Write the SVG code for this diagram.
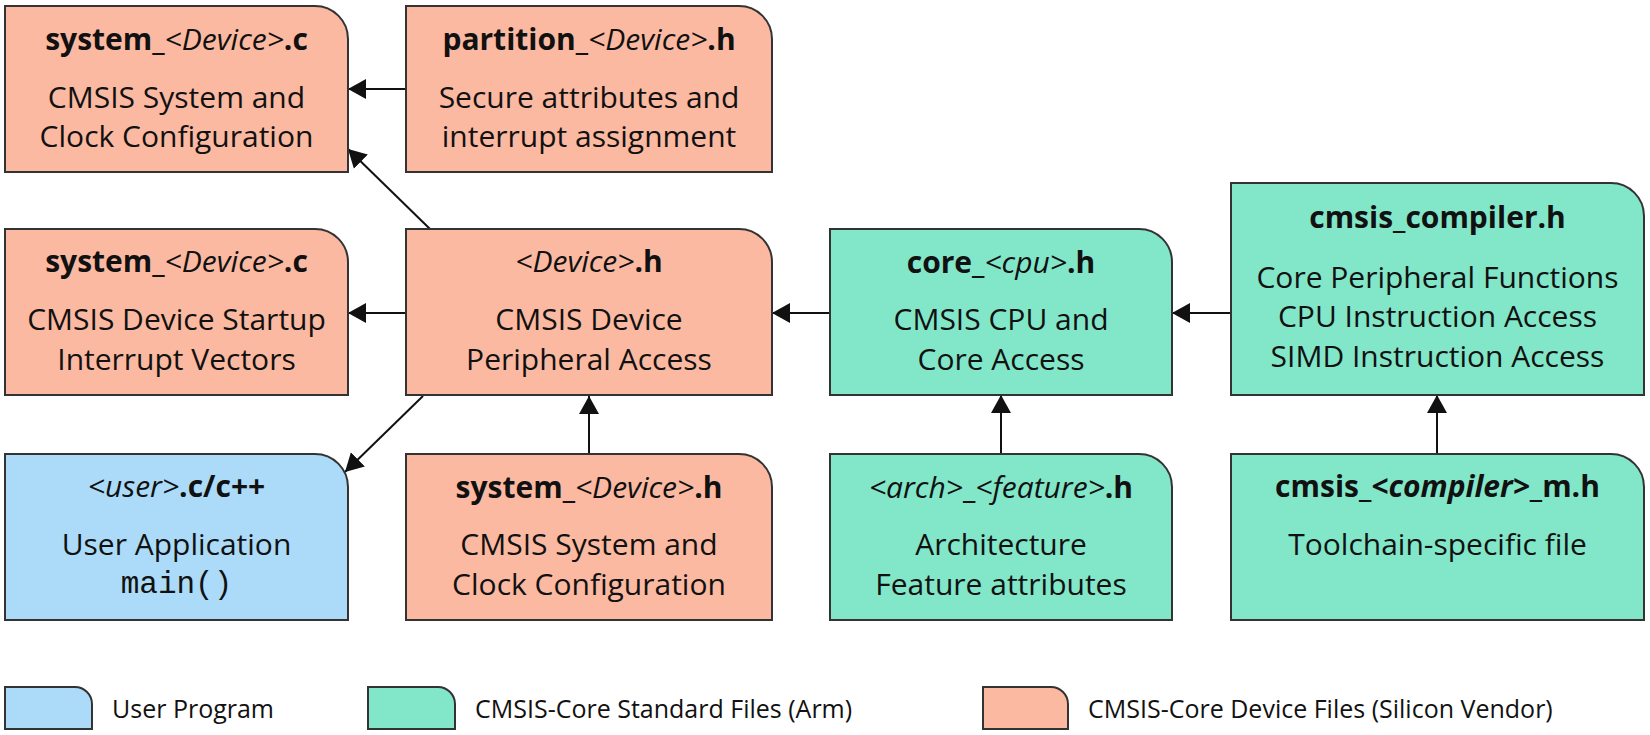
<svg xmlns="http://www.w3.org/2000/svg" width="1650" height="735" viewBox="0 0 1650 735">
<defs>
<style>
.box{stroke:#333;stroke-width:2}
.dev{fill:#FBB9A1}
.std{fill:#82E6C9}
.usr{fill:#ABDBF8}
text{font-family:"Open Sans","Noto Sans",sans-serif;fill:#111;text-anchor:middle}
.t{font-size:30px;font-weight:700}
.i{font-style:italic;font-weight:400}
.b{font-size:30px}
.m{font-family:"Liberation Mono","DejaVu Sans Mono",monospace;font-size:31px}
.lg{font-size:25px;text-anchor:start}
.c{stroke:#111;stroke-width:2;fill:none;marker-end:url(#ah)}
</style>
<marker id="ah" markerUnits="userSpaceOnUse" markerWidth="20" markerHeight="22" refX="18" refY="10" orient="auto" viewBox="0 0 20 20">
<path d="M0,0 L18,10 L0,20 Z" fill="#111"/>
</marker>
</defs>
<rect width="1650" height="735" fill="#fff"/>

<g id="connectors">
<line class="c" x1="406" y1="89" x2="348" y2="89"/>
<line class="c" x1="430" y1="229" x2="348" y2="149"/>
<line class="c" x1="406" y1="313" x2="348" y2="313"/>
<line class="c" x1="423" y1="396" x2="345" y2="472"/>
<line class="c" x1="589" y1="454" x2="589" y2="396"/>
<line class="c" x1="830" y1="313" x2="772" y2="313"/>
<line class="c" x1="1231" y1="313" x2="1172" y2="313"/>
<line class="c" x1="1001" y1="454" x2="1001" y2="395"/>
<line class="c" x1="1437" y1="454" x2="1437" y2="395"/>
</g>

<g id="n1">
<path class="box dev" d="M5,6 H315 A33,33 0 0 1 348,39 V172 H5 Z"/>
<text x="176.5" y="50" class="t">system_<tspan class="i">&lt;Device&gt;</tspan>.c</text>
<text x="176.5" y="108" class="b">CMSIS System and</text>
<text x="176.5" y="147" class="b">Clock Configuration</text>
</g>

<g id="n2">
<path class="box dev" d="M406,6 H739 A33,33 0 0 1 772,39 V172 H406 Z"/>
<text x="589" y="50" class="t">partition_<tspan class="i">&lt;Device&gt;</tspan>.h</text>
<text x="589" y="108" class="b">Secure attributes and</text>
<text x="589" y="147" class="b">interrupt assignment</text>
</g>

<g id="n3">
<path class="box dev" d="M5,229 H315 A33,33 0 0 1 348,262 V395 H5 Z"/>
<text x="176.5" y="272" class="t">system_<tspan class="i">&lt;Device&gt;</tspan>.c</text>
<text x="176.5" y="330" class="b">CMSIS Device Startup</text>
<text x="176.5" y="370" class="b">Interrupt Vectors</text>
</g>

<g id="n4">
<path class="box dev" d="M406,229 H739 A33,33 0 0 1 772,262 V395 H406 Z"/>
<text x="589" y="272" class="t"><tspan class="i">&lt;Device&gt;</tspan>.h</text>
<text x="589" y="330" class="b">CMSIS Device</text>
<text x="589" y="370" class="b">Peripheral Access</text>
</g>

<g id="n5">
<path class="box std" d="M830,229 H1139 A33,33 0 0 1 1172,262 V395 H830 Z"/>
<text x="1001" y="273" class="t">core_<tspan class="i">&lt;cpu&gt;</tspan>.h</text>
<text x="1001" y="330" class="b">CMSIS CPU and</text>
<text x="1001" y="370" class="b">Core Access</text>
</g>

<g id="n6">
<path class="box std" d="M1231,183 H1611 A33,33 0 0 1 1644,216 V395 H1231 Z"/>
<text x="1437.5" y="228" class="t">cmsis_compiler.h</text>
<text x="1437.5" y="288" class="b">Core Peripheral Functions</text>
<text x="1437.5" y="327" class="b">CPU Instruction Access</text>
<text x="1437.5" y="367" class="b">SIMD Instruction Access</text>
</g>

<g id="n7">
<path class="box usr" d="M5,454 H315 A33,33 0 0 1 348,487 V620 H5 Z"/>
<text x="176.5" y="497" class="t"><tspan class="i">&lt;user&gt;</tspan>.c/c++</text>
<text x="176.5" y="555" class="b">User Application</text>
<text x="176.5" y="593" class="m">main()</text>
</g>

<g id="n8">
<path class="box dev" d="M406,454 H739 A33,33 0 0 1 772,487 V620 H406 Z"/>
<text x="589" y="498" class="t">system_<tspan class="i">&lt;Device&gt;</tspan>.h</text>
<text x="589" y="555" class="b">CMSIS System and</text>
<text x="589" y="595" class="b">Clock Configuration</text>
</g>

<g id="n9">
<path class="box std" d="M830,454 H1139 A33,33 0 0 1 1172,487 V620 H830 Z"/>
<text x="1001" y="498" class="t"><tspan class="i">&lt;arch&gt;</tspan>_<tspan class="i">&lt;feature&gt;</tspan>.h</text>
<text x="1001" y="555" class="b">Architecture</text>
<text x="1001" y="595" class="b">Feature attributes</text>
</g>

<g id="n10">
<path class="box std" d="M1231,454 H1611 A33,33 0 0 1 1644,487 V620 H1231 Z"/>
<text x="1437.5" y="497" class="t">cmsis_<tspan font-style="italic">&lt;compiler&gt;</tspan>_m.h</text>
<text x="1437.5" y="555" class="b">Toolchain-specific file</text>
</g>

<g id="legend">
<path class="box usr" d="M5,687 H75 A17,17 0 0 1 92,704 V729 H5 Z"/>
<text x="112" y="718" class="lg">User Program</text>
<path class="box std" d="M368,687 H438 A17,17 0 0 1 455,704 V729 H368 Z"/>
<text x="475" y="718" class="lg">CMSIS-Core Standard Files (Arm)</text>
<path class="box dev" d="M983,687 H1051 A17,17 0 0 1 1068,704 V729 H983 Z"/>
<text x="1088" y="718" class="lg">CMSIS-Core Device Files (Silicon Vendor)</text>
</g>
</svg>
